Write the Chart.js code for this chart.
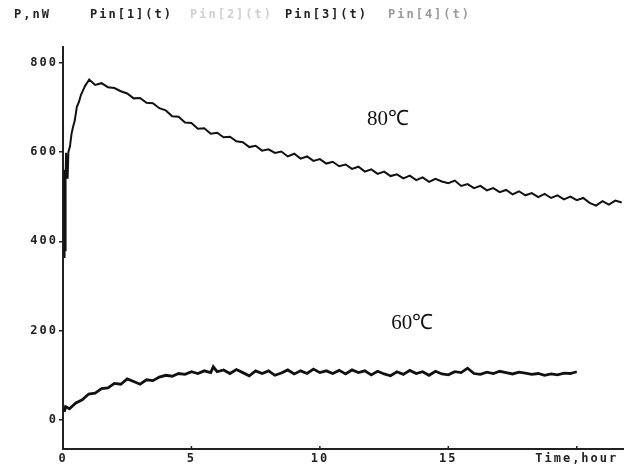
<!DOCTYPE html>
<html>
<head>
<meta charset="utf-8">
<script src="https://cdn.jsdelivr.net/npm/chart.js@4"></script>
<style>
html,body{margin:0;padding:0;background:#fff;}
#wrap{position:relative;width:638px;height:468px;}
</style>
</head>
<body>
<div id="wrap"><canvas id="c" width="638" height="468"></canvas></div>
<script>
// ---- data ----
const yAxisLabel = "P,nW";
const legendLabels = ["Pin[1](t)", "Pin[2](t)", "Pin[3](t)", "Pin[4](t)"];
const legendColors = ["#222222", "#cfcfcf", "#222222", "#9a9a9a"];
const xTickValues = [0, 5, 10, 15, 20];
const xTickLabels = ["0", "5", "10", "15", "Time,hour"];
const yTickValues = [0, 200, 400, 600, 800];

const hours80 = [0.04,0.06,0.08,0.10,0.12,0.18,0.21,0.27,0.33,0.39,0.45,0.54,0.62,0.70,0.78,0.86,0.94,1.02,
 1.25,1.5,1.75,2.0,2.25,2.5,2.75,3.0,3.25,3.5,3.75,4.0,4.25,4.5,4.75,5.0,5.25,5.5,5.75,6.0,6.25,6.5,6.75,7.0,
 7.25,7.5,7.75,8.0,8.25,8.5,8.75,9.0,9.25,9.5,9.75,10.0,10.25,10.5,10.75,11.0,11.25,11.5,11.75,12.0,12.25,12.5,
 12.75,13.0,13.25,13.5,13.75,14.0,14.25,14.5,14.75,15.0,15.25,15.5,15.75,16.0,16.25,16.5,16.75,17.0,17.25,17.5,
 17.75,18.0,18.25,18.5,18.75,19.0,19.25,19.5,19.75,20.0,20.25,20.5,20.75,21.0,21.25,21.5,21.75];
const power80 = [365,560,380,540,598,540,600,612,640,656,668,701,712,728,738,748,755,762,
 750,754,745,743,736,731,720,721,710,709,698,693,680,679,666,665,652,653,641,643,633,634,624,622,
 611,614,603,606,598,601,590,596,585,590,580,584,574,578,568,572,562,567,556,561,551,556,
 546,550,541,547,537,543,533,540,534,530,536,524,528,519,524,514,519,510,515,505,
 512,503,508,499,506,497,503,494,500,492,497,486,480,490,482,491,487];

const hours60 = [0.05,0.1,0.25,0.5,0.75,1.0,1.25,1.5,1.75,2.0,2.25,2.5,2.75,3.0,3.25,3.5,3.75,4.0,4.25,4.5,4.75,
 5.0,5.25,5.5,5.75,5.85,6.0,6.25,6.5,6.75,7.0,7.25,7.5,7.75,8.0,8.25,8.5,8.75,9.0,9.25,9.5,9.75,10.0,10.25,10.5,
 10.75,11.0,11.25,11.5,11.75,12.0,12.25,12.5,12.75,13.0,13.25,13.5,13.75,14.0,14.25,14.5,14.75,15.0,15.25,15.5,
 15.75,16.0,16.25,16.5,16.75,17.0,17.25,17.5,17.75,18.0,18.25,18.5,18.75,19.0,19.25,19.5,19.75,20.0];
const power60 = [18,30,25,38,45,58,60,70,72,82,80,92,86,80,90,88,96,100,98,104,102,
 108,104,110,106,119,108,112,104,113,106,99,110,104,110,100,105,112,103,110,104,114,106,110,104,
 111,103,112,106,110,101,109,103,99,108,102,111,104,108,100,109,103,101,108,106,
 116,104,102,107,104,109,106,103,107,105,102,104,100,103,101,105,104,108];

const annotations = [
  {text: "80\u2103", x: 12.65, y: 672},
  {text: "60\u2103", x: 13.6, y: 217}
];

function pts(xs, ys){ return xs.map((x,i)=>({x:x, y:ys[i]})); }

const monoFont = {family: "'DejaVu Sans Mono', monospace", size: 12, weight: 'bold'};

const overlay = {
  id: 'overlay',
  beforeDraw(chart){ chart.ctx.letterSpacing = '2px'; },
  afterDraw(chart){
    const ctx = chart.ctx;
    const xs = chart.scales.x, ys = chart.scales.y;
    ctx.save();
    ctx.letterSpacing = '2px';
    ctx.font = "bold 12px 'DejaVu Sans Mono', monospace";
    ctx.textBaseline = 'middle';
    ctx.textAlign = 'left';
    ctx.fillStyle = '#222';
    ctx.fillText(yAxisLabel, 14, 15);
    const lx = [90, 190, 285, 388];
    legendLabels.forEach((l,i)=>{ ctx.fillStyle = legendColors[i]; ctx.fillText(l, lx[i], 15); });
    // inward x tick marks
    ctx.strokeStyle = '#222'; ctx.lineWidth = 1.5;
    xTickValues.forEach(v=>{ if(v===0) return; const px = xs.getPixelForValue(v);
      ctx.beginPath(); ctx.moveTo(px, ys.bottom); ctx.lineTo(px, ys.bottom-3); ctx.stroke(); });
    // annotations
    ctx.letterSpacing = '0px';
    ctx.font = "21px 'Liberation Serif', serif";
    ctx.fillStyle = '#111';
    ctx.textAlign = 'center';
    annotations.forEach(a=>{ ctx.fillText(a.text, xs.getPixelForValue(a.x), ys.getPixelForValue(a.y)); });
    ctx.restore();
  }
};

new Chart(document.getElementById('c'), {
  type: 'line',
  data: {
    datasets: [
      {label: legendLabels[0], data: pts(hours80, power80), borderColor: '#111', borderWidth: 2, pointRadius: 0, tension: 0},
      {label: legendLabels[2], data: pts(hours60, power60), borderColor: '#111', borderWidth: 2.8, pointRadius: 0, tension: 0}
    ]
  },
  options: {
    responsive: false,
    animation: false,
    events: [],
    layout: {padding: {left: 0, top: 47, right: 15, bottom: 0}},
    plugins: {legend: {display: false}, tooltip: {enabled: false}},
    scales: {
      x: {
        type: 'linear', min: 0, max: 21.8,
        afterBuildTicks(s){ s.ticks = xTickValues.map(v=>({value:v})); },
        afterFit(s){ s.height = 19; },
        ticks: {
          autoSkip: false, maxRotation: 0, padding: 3, color: '#222', font: monoFont,
          callback(v){ const i = xTickValues.indexOf(v); return i>=0 ? xTickLabels[i] : ''; }
        },
        grid: {display: true, drawOnChartArea: false, drawTicks: false},
        border: {display: true, color: '#222', width: 2}
      },
      y: {
        type: 'linear', min: -65, max: 835,
        afterBuildTicks(s){ s.ticks = yTickValues.map(v=>({value:v})); },
        afterFit(s){ s.width = 63; },
        ticks: {padding: 1, color: '#222', font: monoFont},
        grid: {display: true, drawOnChartArea: false, drawTicks: true, tickLength: 4, color: '#222', lineWidth: 1.5},
        border: {display: true, color: '#222', width: 2}
      }
    }
  },
  plugins: [overlay]
});
</script>
</body>
</html>
